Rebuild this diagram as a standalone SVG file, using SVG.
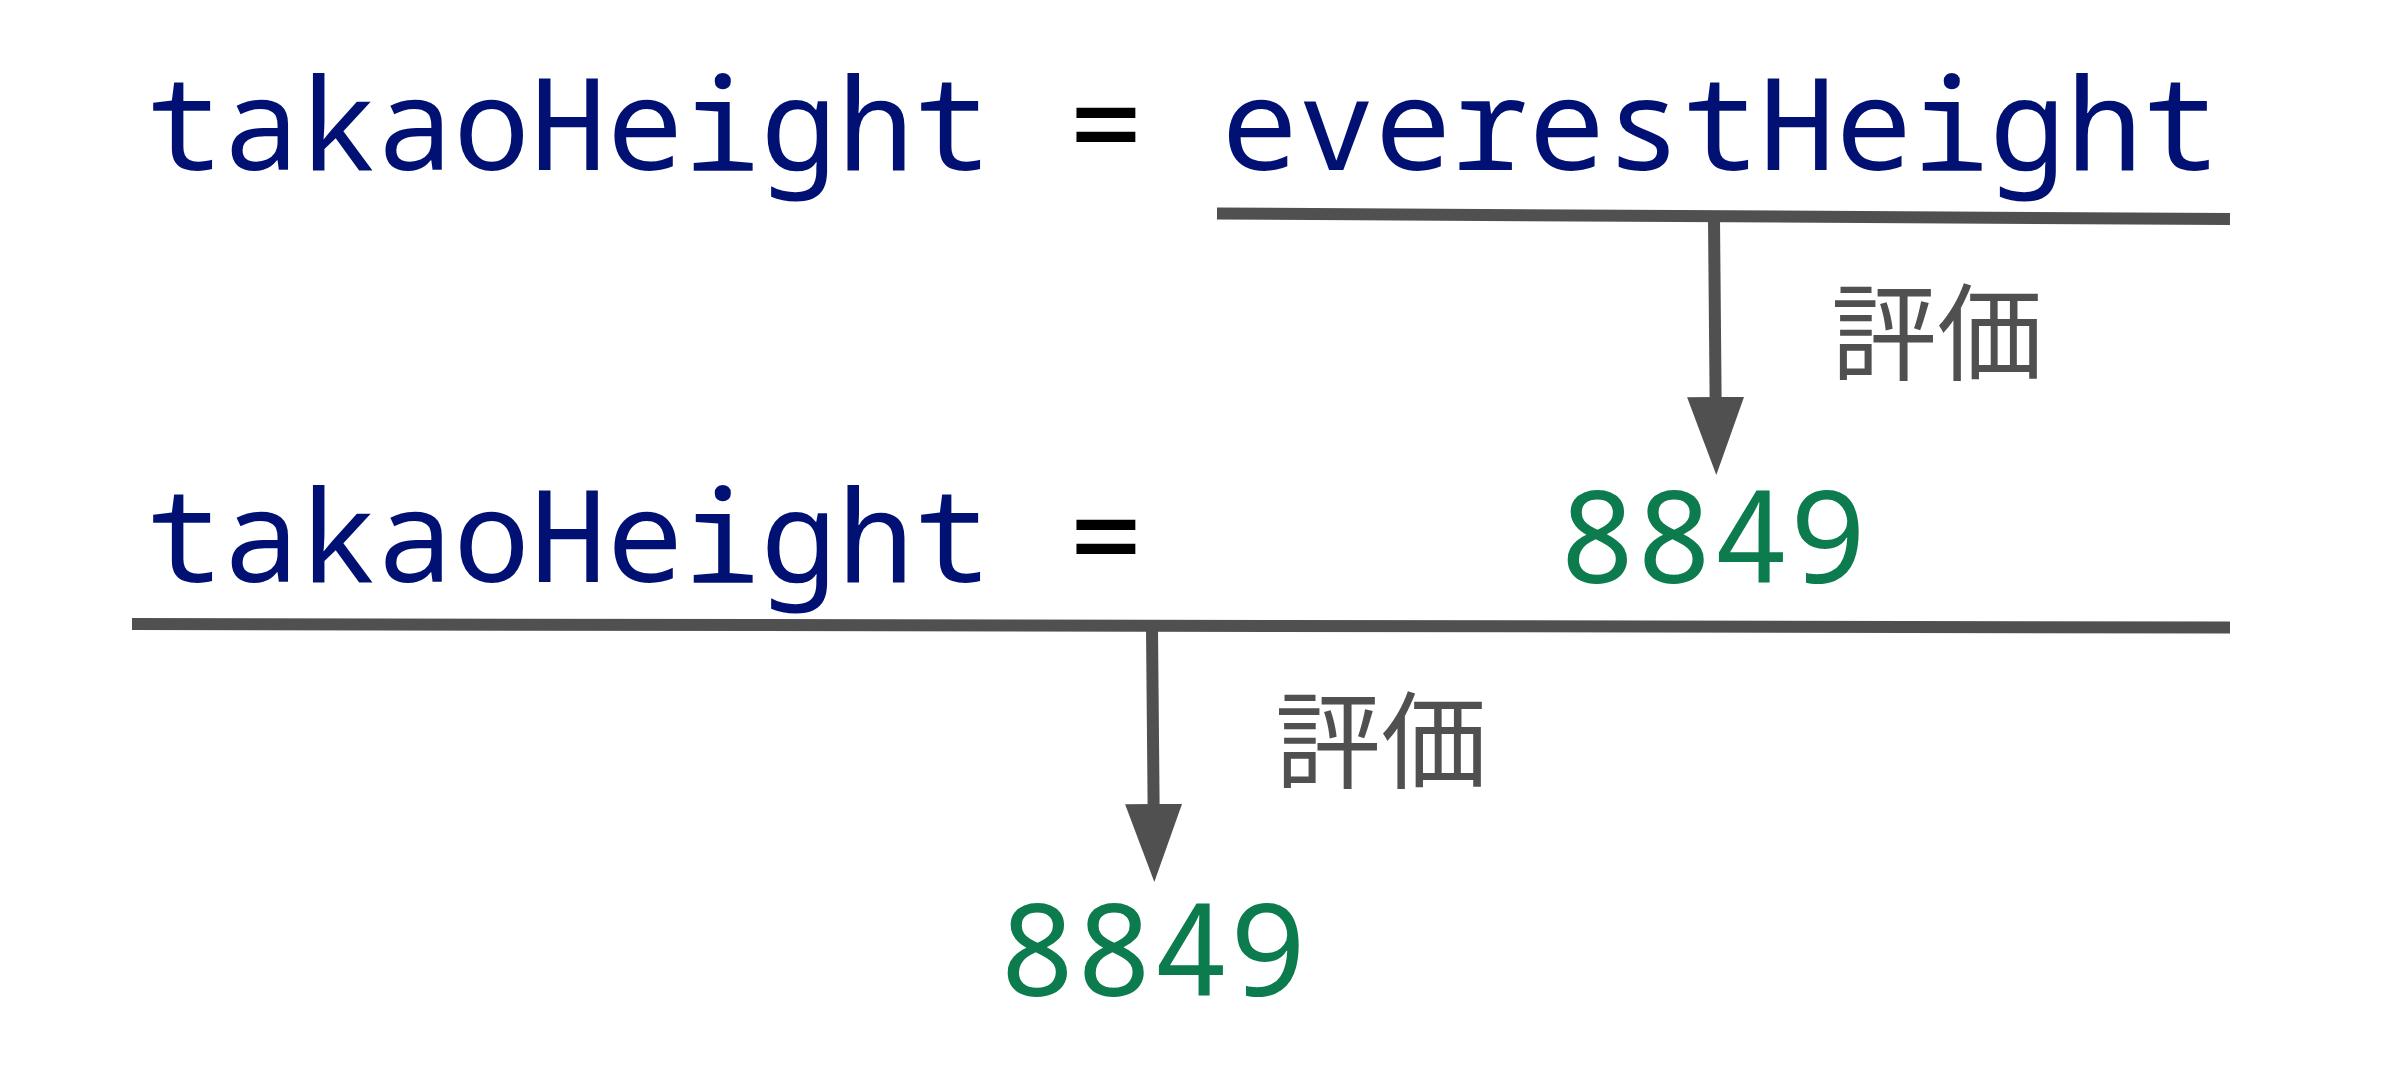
<svg xmlns="http://www.w3.org/2000/svg" width="2386" height="1074" viewBox="0 0 2386 1074">
<defs>
<style>
.code{font-family:"Noto Sans Mono","DejaVu Sans Mono","Liberation Mono",monospace;font-size:128px;fill:#001173}
.eq{fill:#000000}
.num{font-family:"Noto Sans Mono","DejaVu Sans Mono","Liberation Mono",monospace;font-size:128px;fill:#0c7b4d}
.lbl{font-family:"Noto Sans CJK JP","Noto Sans CJK SC",sans-serif;font-size:106px;fill:#505050}
.bar{stroke:#505050;stroke-width:12;fill:none}
.arr{stroke:#505050;stroke-width:12;fill:none;marker-end:url(#head)}
</style>
<marker id="head" markerUnits="userSpaceOnUse" markerWidth="80" markerHeight="58" refX="0" refY="28.5" orient="auto" viewBox="0 0 80 58">
<path d="M0,0 L78,28.5 L0,57 z" fill="#505050"/>
</marker>
</defs>
<rect width="2386" height="1074" fill="#ffffff"/>
<g id="line1">
<text class="code" x="146" y="170">takaoHeight <tspan class="eq">=</tspan> everestHeight</text>
</g>
<g id="line2">
<text class="code" x="146" y="582">takaoHeight <tspan class="eq">=</tspan></text>
<text class="num" x="1559" y="583">8849</text>
</g>
<g id="result">
<text class="num" x="999" y="996">8849</text>
</g>
<g id="label1">
<text class="lbl" x="1831" y="372">評価</text>
</g>
<g id="label2">
<text class="lbl" x="1275" y="780">評価</text>
</g>
<g id="connectors">
<line class="bar" x1="1217" y1="213.5" x2="2230" y2="219"/>
<line class="arr" x1="1714" y1="219" x2="1715.6" y2="397"/>
<line class="bar" x1="132" y1="624" x2="2230" y2="627.5"/>
<line class="arr" x1="1152" y1="628" x2="1153.6" y2="804"/>
</g>
</svg>
